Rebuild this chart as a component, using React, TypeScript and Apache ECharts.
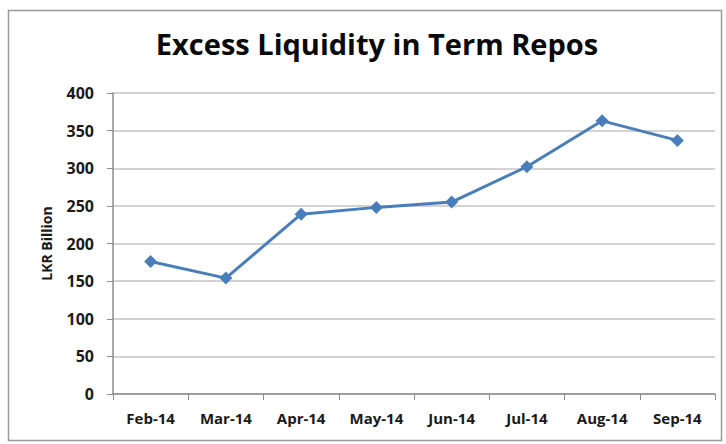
import React, { useEffect, useRef } from "react";
import * as echarts from "echarts";

const categories = ["Feb-14", "Mar-14", "Apr-14", "May-14", "Jun-14", "Jul-14", "Aug-14", "Sep-14"];
const values = [176, 154, 239, 248, 255, 302, 363, 337];
const titleText = "Excess Liquidity in Term Repos";
const yAxisName = "LKR Billion";

export default function App() {
  const ref = useRef<HTMLDivElement>(null);
  useEffect(() => {
    if (!ref.current) return;
    const chart = echarts.init(ref.current, undefined, { renderer: "svg" });
    const font = "'Open Sans', 'Noto Sans', sans-serif";
    chart.setOption({
      animation: false,
      backgroundColor: "#ffffff",
      title: {
        text: titleText,
        left: 372,
        textAlign: "center",
        top: 24,
        textStyle: { fontFamily: font, fontWeight: "bold", fontSize: 29, color: "#0a0a0a" },
      },
      graphic: [
        {
          type: "rect",
          shape: { x: 8.5, y: 10.5, width: 713, height: 430 },
          style: { fill: "none", stroke: "#9a9a9a", lineWidth: 1.5 },
          silent: true,
        },
      ],
      grid: { left: 113, right: 11, top: 93, bottom: 50, containLabel: false },
      xAxis: {
        type: "category",
        data: categories,
        boundaryGap: true,
        axisLine: { lineStyle: { color: "#8c8c8c", width: 1.5 } },
        axisTick: { show: true, alignWithLabel: false, length: 6, lineStyle: { color: "#8c8c8c" } },
        axisLabel: { color: "#1a1a1a", fontFamily: font, fontWeight: "bold", fontSize: 15, margin: 16 },
        splitLine: { show: false },
      },
      yAxis: {
        type: "value",
        min: 0,
        max: 400,
        interval: 50,
        name: yAxisName,
        nameLocation: "middle",
        nameGap: 60,
        nameRotate: 90,
        nameTextStyle: { color: "#1a1a1a", fontFamily: font, fontWeight: "bold", fontSize: 14 },
        axisLine: { show: true, lineStyle: { color: "#8c8c8c", width: 1.5 } },
        axisTick: { show: true, length: 6, lineStyle: { color: "#8c8c8c" } },
        axisLabel: { color: "#1a1a1a", fontFamily: font, fontWeight: "bold", fontSize: 16, margin: 19 },
        splitLine: { show: true, lineStyle: { color: "#c4c4c4", width: 1.5 } },
      },
      series: [
        {
          type: "line",
          data: values,
          symbol: "diamond",
          symbolSize: 13,
          lineStyle: { color: "#4a7ebb", width: 3 },
          itemStyle: { color: "#4a7ebb" },
        },
      ],
    });
    return () => chart.dispose();
  }, []);
  return <div ref={ref} style={{ position: "absolute", left: 0, top: 0, width: 726, height: 444 }} />;
}
